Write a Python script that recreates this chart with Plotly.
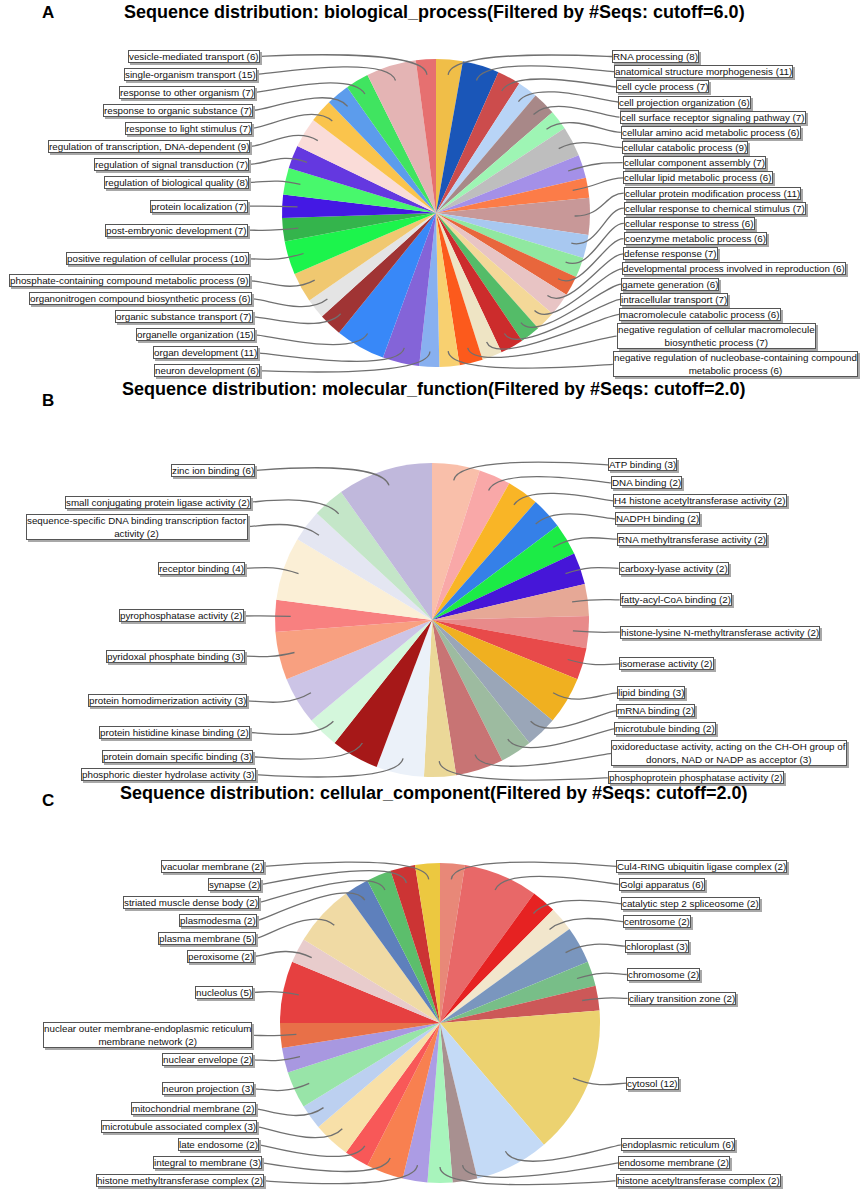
import math
import plotly.graph_objects as go

FIG_W, FIG_H = 866, 1191

# ---------------- Panel A : biological_process ----------------
BP_TERMS = [
    "RNA processing", "anatomical structure morphogenesis", "cell cycle process",
    "cell projection organization", "cell surface receptor signaling pathway",
    "cellular amino acid metabolic process", "cellular catabolic process",
    "cellular component assembly", "cellular lipid metabolic process",
    "cellular protein modification process", "cellular response to chemical stimulus",
    "cellular response to stress", "coenzyme metabolic process", "defense response",
    "developmental process involved in reproduction", "gamete generation",
    "intracellular transport", "macromolecule catabolic process",
    "negative regulation of cellular macromolecule biosynthetic process",
    "negative regulation of nucleobase-containing compound metabolic process",
    "neuron development", "organ development", "organelle organization",
    "organic substance transport", "organonitrogen compound biosynthetic process",
    "phosphate-containing compound metabolic process",
    "positive regulation of cellular process", "post-embryonic development",
    "protein localization", "regulation of biological quality",
    "regulation of signal transduction", "regulation of transcription, DNA-dependent",
    "response to light stimulus", "response to organic substance",
    "response to other organism", "single-organism transport", "vesicle-mediated transport",
]
BP_SEQS = [8, 11, 7, 6, 7, 6, 9, 7, 6, 11, 7, 6, 6, 7, 6, 6, 7, 6, 7, 6,
           6, 11, 15, 7, 6, 9, 10, 7, 7, 8, 7, 9, 7, 7, 7, 15, 6]
BP_COLORS = [
    "#F0BE48", "#1A56B8", "#CC4C4C", "#B8D4F6", "#A88888", "#9EF5B4", "#BEBEBE",
    "#A490E8", "#FC7C48", "#C89898", "#A8C8F0", "#90E8A0", "#E8663C", "#E8C4C4",
    "#F4D898", "#54BC68", "#CC2C2C", "#EEE4C4", "#FC5A1C", "#F8D070", "#88B0F0",
    "#8464D8", "#3888F8", "#A03434", "#E4E4E4", "#F0C870", "#1CF44C", "#34B44C",
    "#4418E4", "#48F86C", "#6438E0", "#FADCD8", "#FAC44C", "#5C9CEC", "#40E460",
    "#E4B4B4", "#E67070",
]

# ---------------- Panel B : molecular_function ----------------
MF_TERMS = [
    "ATP binding", "DNA binding", "H4 histone acetyltransferase activity", "NADPH binding",
    "RNA methyltransferase activity", "carboxy-lyase activity", "fatty-acyl-CoA binding",
    "histone-lysine N-methyltransferase activity", "isomerase activity", "lipid binding",
    "mRNA binding", "microtubule binding",
    "oxidoreductase activity, acting on the CH-OH group of donors, NAD or NADP as acceptor",
    "phosphoprotein phosphatase activity", "phosphoric diester hydrolase activity",
    "protein domain specific binding", "protein histidine kinase binding",
    "protein homodimerization activity", "pyridoxal phosphate binding",
    "pyrophosphatase activity", "receptor binding",
    "sequence-specific DNA binding transcription factor activity",
    "small conjugating protein ligase activity", "zinc ion binding",
]
MF_SEQS = [3, 2, 2, 2, 2, 2, 2, 2, 2, 3, 2, 2, 3, 2, 3, 3, 2, 3, 3, 2, 4, 2, 2, 6]
MF_COLORS = [
    "#F9BFAA", "#F9A8A8", "#F9B526", "#3580E8", "#1CEB46", "#4616D8", "#E6A896",
    "#E88A8A", "#E84A4A", "#F0B020", "#9AA6B8", "#9DBBA0", "#C87474", "#EBD898",
    "#EBF1F9", "#A61818", "#D4F7DC", "#CCC4E6", "#F8A080", "#F88080", "#FBEFD6",
    "#E4E6F2", "#C4E6C8", "#C0B8DC",
]

# ---------------- Panel C : cellular_component ----------------
CC_TERMS = [
    "Cul4-RING ubiquitin ligase complex", "Golgi apparatus", "catalytic step 2 spliceosome",
    "centrosome", "chloroplast", "chromosome", "ciliary transition zone", "cytosol",
    "endoplasmic reticulum", "endosome membrane", "histone acetyltransferase complex",
    "histone methyltransferase complex", "integral to membrane", "late endosome",
    "microtubule associated complex", "mitochondrial membrane", "neuron projection",
    "nuclear envelope",
    "nuclear outer membrane-endoplasmic reticulum membrane network",
    "nucleolus", "peroxisome", "plasma membrane", "plasmodesma",
    "striated muscle dense body", "synapse", "vacuolar membrane",
]
CC_SEQS = [2, 6, 2, 2, 3, 2, 2, 12, 6, 2, 2, 2, 3, 2, 3, 2, 3, 2, 2, 5, 2, 5, 2, 2, 2, 2]
CC_COLORS = [
    "#E88878", "#E86868", "#E62222", "#F2E6CC", "#7A96BE", "#78BE88", "#CC5858",
    "#ECD270", "#C4DAF6", "#A89090", "#A8F4BC", "#AC9CE4", "#F88050", "#F85858",
    "#F8E0A8", "#BCD0F0", "#98E4A8", "#A898E0", "#E87048", "#E64040", "#E8CCCC",
    "#F0DAA4", "#5E80BC", "#5CBE6C", "#CC3434", "#ECC840",
]

PANELS = [
    dict(letter="A", title="Sequence distribution: biological_process(Filtered by #Seqs: cutoff=6.0)",
         terms=BP_TERMS, seqs=BP_SEQS, colors=BP_COLORS,
         cx=436, cy=213, r=154, ry=154, title_y=12, letter_y=12),
    dict(letter="B", title="Sequence distribution: molecular_function(Filtered by #Seqs: cutoff=2.0)",
         terms=MF_TERMS, seqs=MF_SEQS, colors=MF_COLORS,
         cx=432, cy=620, r=157, ry=154, title_y=389, letter_y=400),
    dict(letter="C", title="Sequence distribution: cellular_component(Filtered by #Seqs: cutoff=2.0)",
         terms=CC_TERMS, seqs=CC_SEQS, colors=CC_COLORS,
         cx=440, cy=1023, r=160, ry=154, title_y=793, letter_y=800),
]

FONT = "Liberation Sans, Arial, Helvetica, sans-serif"
LABEL_SIZE = 9.8
LINE_H1 = 14.0
LINE_H2 = 27.0
GAP = 4.0

# Arial advance widths (1/1000 em)
_W = {c: 556 for c in "abdeghnopqu0123456789"}
_W.update({"c": 500, "k": 500, "s": 500, "v": 500, "x": 500, "y": 500, "z": 500,
           "f": 278, "t": 278, "i": 222, "j": 222, "l": 222, "r": 333, "m": 833, "w": 722,
           " ": 278, "-": 333, ",": 278, "(": 333, ")": 333, ".": 278, "_": 556, "#": 556,
           "A": 667, "B": 667, "C": 722, "D": 722, "E": 667, "F": 611, "G": 778, "H": 722,
           "I": 278, "K": 667, "L": 556, "M": 833, "N": 722, "O": 778, "P": 667, "R": 722,
           "S": 667, "T": 611, "U": 722, "V": 667, "W": 944})


def text_em(s):
    return sum(_W.get(ch, 556) for ch in s) / 1000.0


def wrap(text, max_em=25.2):
    lines, cur = [], ""
    for w in text.split(" "):
        cand = (cur + " " + w) if cur else w
        if cur and text_em(cand) > max_em:
            lines.append(cur)
            cur = w
        else:
            cur = cand
    lines.append(cur)
    return lines


def distribute(targets, heights, top, bottom, gap):
    n = len(targets)
    y = [min(max(t, top + h / 2), bottom - h / 2) for t, h in zip(targets, heights)]
    for i in range(1, n):
        y[i] = max(y[i], y[i - 1] + (heights[i - 1] + heights[i]) / 2 + gap)
    y[-1] = min(y[-1], bottom - heights[-1] / 2)
    for i in range(n - 2, -1, -1):
        y[i] = min(y[i], y[i + 1] - (heights[i] + heights[i + 1]) / 2 - gap)
    if y[0] < top + heights[0] / 2 - 0.01:
        start = max(top, targets[0] - heights[0] / 2)
        space = (bottom - start - sum(heights)) / max(n - 1, 1)
        cur = start
        for i in range(n):
            y[i] = cur + heights[i] / 2
            cur += heights[i] + space
    return y


fig = go.Figure()
fig.add_trace(go.Scatter(x=[0, FIG_W], y=[0, FIG_H], mode="markers",
                         marker=dict(opacity=0), hoverinfo="skip", showlegend=False))

shapes, annotations = [], []

for p in PANELS:
    cx, cy, r, ry = p["cx"], p["cy"], p["r"], p["ry"]
    vals = p["seqs"]
    total = float(sum(vals))
    fig.add_trace(go.Pie(
        labels=p["terms"], values=vals, sort=False, direction="clockwise", rotation=0,
        marker=dict(colors=p["colors"], line=dict(width=0)),
        textinfo="none", textposition="none", showlegend=False,
        hovertemplate="%{label}: %{value}<extra></extra>",
        domain=dict(x=[(cx - r) / FIG_W, (cx + r) / FIG_W],
                    y=[1 - (cy + r) / FIG_H, 1 - (cy - r) / FIG_H]),
    ))

    # slice mid angles (degrees clockwise from 12 o'clock)
    cum = 0.0
    recs = []
    for term, v in zip(p["terms"], vals):
        mid = (cum + v / 2.0) / total * 360.0
        cum += v
        lines = wrap(f"{term} ({v})")
        h = LINE_H1 if len(lines) == 1 else LINE_H2
        th = math.radians(mid)
        recs.append(dict(text="<br>".join(lines), h=h, th=th,
                         side="R" if mid <= 180.0 + 1e-9 else "L",
                         target=cy - math.cos(th) * 1.02 * ry))

    top, bottom = cy - 1.12 * ry, cy + 1.07 * ry
    for side in ("R", "L"):
        group = [rc for rc in recs if rc["side"] == side]
        group.sort(key=lambda rc: rc["target"])
        ys = distribute([g["target"] for g in group], [g["h"] for g in group], top, bottom, GAP)
        for g, yl in zip(group, ys):
            dy = (yl - cy) / (2.9 * ry)
            off = 1.22 * ry * math.sqrt(max(0.0, 1 - dy * dy))
            sgn = 1 if side == "R" else -1
            xe = cx + sgn * off
            th = g["th"]
            lx, ly = cx + math.sin(th) * 0.9 * r, cy - math.cos(th) * 0.9 * r
            ex, ey = cx + math.sin(th) * 1.08 * r, cy - math.cos(th) * 1.08 * r
            c1x = cx + sgn * 1.1 * r
            shapes.append(dict(
                type="path", xref="x", yref="y", layer="above",
                path=f"M {xe:.1f},{yl:.1f} C {c1x:.1f},{yl:.1f} {ex:.1f},{ey:.1f} {lx:.1f},{ly:.1f}",
                line=dict(color="#707070", width=1.3)))
            anchor = "left" if side == "R" else "right"
            annotations.append(dict(
                x=xe, y=yl, xref="x", yref="y", xanchor=anchor, yanchor="middle",
                text=g["text"], showarrow=False, align="center",
                font=dict(family=FONT, size=LABEL_SIZE, color="rgba(0,0,0,0)"),
                bgcolor="#a8a8a8", bordercolor="#a8a8a8", borderwidth=1, borderpad=0,
                xshift=2, yshift=-2))
            annotations.append(dict(
                x=xe, y=yl, xref="x", yref="y", xanchor=anchor, yanchor="middle",
                text=g["text"], showarrow=False, align="center",
                font=dict(family=FONT, size=LABEL_SIZE, color="#111111"),
                bgcolor="#ffffff", bordercolor="#555555", borderwidth=1, borderpad=0))

    annotations.append(dict(x=40, y=p["letter_y"], xref="x", yref="y", text=f"<b>{p['letter']}</b>",
                            showarrow=False, xanchor="left", yanchor="middle",
                            font=dict(family=FONT, size=17, color="#000")))
    annotations.append(dict(x=434, y=p["title_y"], xref="x", yref="y", text=f"<b>{p['title']}</b>",
                            showarrow=False, xanchor="center", yanchor="middle",
                            font=dict(family=FONT, size=18, color="#000")))

fig.update_layout(
    width=FIG_W, height=FIG_H, margin=dict(l=0, r=0, t=0, b=0),
    paper_bgcolor="white", plot_bgcolor="white", showlegend=False,
    xaxis=dict(range=[0, FIG_W], visible=False, fixedrange=True, domain=[0, 1]),
    yaxis=dict(range=[FIG_H, 0], visible=False, fixedrange=True, domain=[0, 1]),
    shapes=shapes, annotations=annotations,
)

fig.write_html(
    "out.html",
    config={"displayModeBar": False},
    post_script="document.body.style.margin='0px';document.body.style.padding='0px';"
                "document.body.style.overflow='hidden';",
)
